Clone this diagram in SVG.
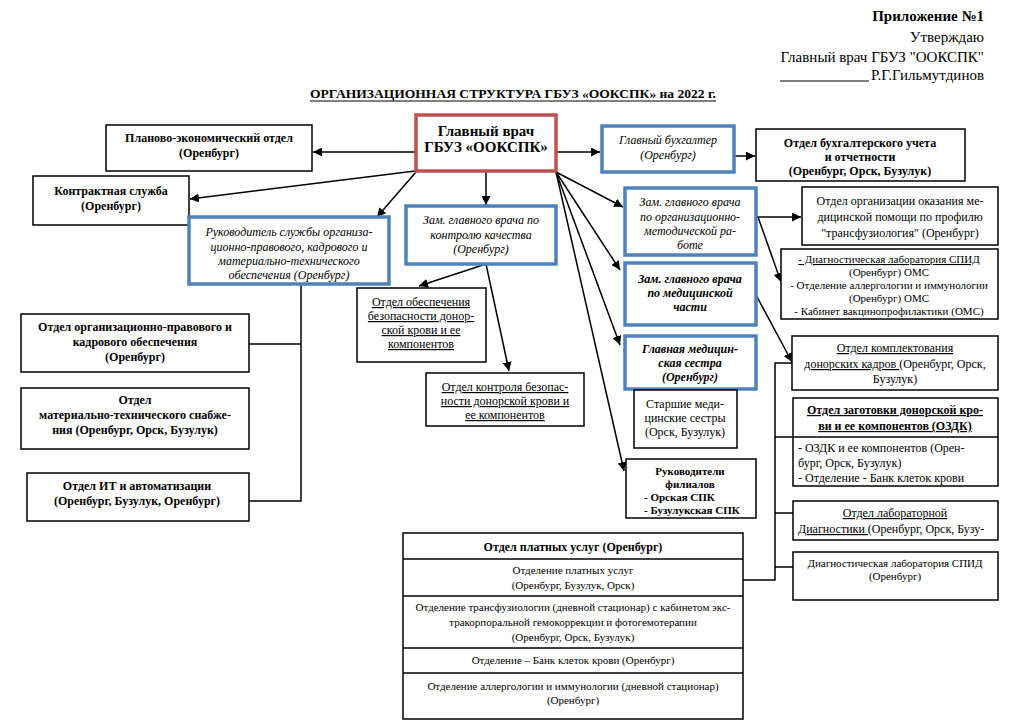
<svg xmlns="http://www.w3.org/2000/svg" width="1024" height="724" viewBox="0 0 1024 724" font-family="Liberation Serif, DejaVu Serif, serif">
<defs>
<marker id="ar" viewBox="0 0 10 10" refX="10" refY="5" markerWidth="9" markerHeight="9" markerUnits="userSpaceOnUse" orient="auto">
<path d="M0,0 L10,5 L0,10 z" fill="#000"/>
</marker>
<style>
text{fill:#000;font-size:12px}
.c{text-anchor:middle}
.r{text-anchor:end}
.bd{font-weight:bold}
.it{font-style:italic}
.u{text-decoration:underline}
.s11{font-size:11px}
.s14{font-size:14px}
.s15{font-size:15px}
.bx{fill:#fff;stroke:#000;stroke-width:1.5}
.bl{fill:#fff;stroke:#4F81BD;stroke-width:3.5}
.rd{fill:#fff;stroke:#C0504D;stroke-width:3.5}
.cn{fill:none;stroke:#000;stroke-width:1.5}
.ca{fill:none;stroke:#000;stroke-width:1.5;marker-end:url(#ar)}
</style>
</defs>
<rect width="1024" height="724" fill="#fff"/>

<g id="header">
<text x="984" y="21" class="r bd s15">Приложение №1</text>
<text x="984" y="42" class="r s15">Утверждаю</text>
<text x="984" y="62" class="r s15">Главный врач ГБУЗ "ООКСПК"</text>
<line x1="780" y1="81" x2="869" y2="81" stroke="#000" stroke-width="1"/>
<text x="984" y="80" class="r s15">Р.Г.Гильмутдинов</text>
<text x="310" y="98" class="bd" font-size="13" textLength="406" lengthAdjust="spacingAndGlyphs">ОРГАНИЗАЦИОННАЯ СТРУКТУРА ГБУЗ «ООКСПК» на 2022 г.</text>
<line x1="310" y1="101" x2="716" y2="101" stroke="#000" stroke-width="1"/>
</g>

<g id="connectors">
<path class="ca" d="M416,152 L313,152"/>
<path class="ca" d="M415,171 L190,199"/>
<path class="ca" d="M416,172 L377,217"/>
<path class="ca" d="M486,171 L486,205"/>
<path class="ca" d="M556,152 L600,152"/>
<path class="ca" d="M734,156 L755,156"/>
<path class="ca" d="M556,172 L623,207"/>
<path class="ca" d="M556,172 L620,270"/>
<path class="ca" d="M556,172 L620,345"/>
<path class="ca" d="M556,172 L624,471"/>
<path class="ca" d="M486,264 L419,286"/>
<path class="ca" d="M486,264 L509,371"/>
<path class="cn" d="M301,285 L301,501 L249,501"/>
<path class="cn" d="M249,344 L301,344"/>
<path class="ca" d="M756,217 L801,217"/>
<path class="ca" d="M758,217 L781,282"/>
<path class="ca" d="M756,295 L792,362"/>
<path class="cn" d="M792,363 L775,363 L775,580 L743,580"/>
<path class="cn" d="M775,437 L793,437"/>
<path class="cn" d="M775,513 L793,513"/>
<path class="cn" d="M775,567 L793,567"/>
</g>

<g id="glavvrach">
<rect class="rd" x="416" y="115" width="140" height="56"/>
<text x="486" y="136" class="c bd s15">Главный врач</text>
<text x="486" y="152" class="c bd s15">ГБУЗ «ООКСПК»</text>
</g>

<g id="planovo">
<rect class="bx" x="106" y="125" width="206" height="46"/>
<text x="209" y="142" class="c bd">Планово-экономический отдел</text>
<text x="209" y="157" class="c bd">(Оренбург)</text>
</g>

<g id="kontrakt">
<rect class="bx" x="33" y="176" width="156" height="49"/>
<text x="111" y="195" class="c bd">Контрактная служба</text>
<text x="111" y="210" class="c bd">(Оренбург)</text>
</g>

<g id="rukovoditel">
<rect class="bl" x="189" y="217" width="200" height="67"/>
<text x="289" y="236" class="c it">Руководитель службы организа-</text>
<text x="289" y="251" class="c it">ционно-правового, кадрового и</text>
<text x="289" y="265" class="c it">материально-технического</text>
<text x="289" y="279" class="c it">обеспечения (Оренбург)</text>
</g>

<g id="zamkach">
<rect class="bl" x="406" y="206" width="150" height="58"/>
<text x="481" y="224" class="c it">Зам. главного врача по</text>
<text x="481" y="239" class="c it">контролю качества</text>
<text x="481" y="253" class="c it">(Оренбург)</text>
</g>

<g id="glavbuh">
<rect class="bl" x="602" y="126" width="132" height="46"/>
<text x="668" y="144" class="c it">Главный бухгалтер</text>
<text x="668" y="159" class="c it">(Оренбург)</text>
</g>

<g id="buhuchet">
<rect class="bx" x="756" y="129" width="209" height="52"/>
<text x="860" y="147" class="c bd">Отдел бухгалтерского учета</text>
<text x="860" y="161" class="c bd">и отчетности</text>
<text x="860" y="175" class="c bd">(Оренбург, Орск, Бузулук)</text>
</g>

<g id="zamorg">
<rect class="bl" x="625" y="188" width="131" height="67"/>
<text x="690" y="206" class="c it">Зам. главного врача</text>
<text x="690" y="221" class="c it">по организационно-</text>
<text x="690" y="235" class="c it">методической ра-</text>
<text x="690" y="249" class="c it">боте</text>
</g>

<g id="otdorg">
<rect class="bx" x="802" y="187" width="196" height="58"/>
<text x="900" y="205" class="c">Отдел организации оказания ме-</text>
<text x="900" y="221" class="c">дицинской помощи по профилю</text>
<text x="900" y="237" class="c">"трансфузиология" (Оренбург)</text>
</g>

<g id="diaglab1">
<rect class="bx" x="781" y="249" width="217" height="70"/>
<text x="889" y="263" class="c s11 u">- Диагностическая лаборатория СПИД</text>
<text x="889" y="276" class="c s11">(Оренбург) ОМС</text>
<text x="889" y="289" class="c s11">- Отделение аллергологии и иммунологии</text>
<text x="889" y="302" class="c s11">(Оренбург) ОМС</text>
<text x="889" y="315" class="c s11">- Кабинет вакцинопрофилактики (ОМС)</text>
</g>

<g id="zammed">
<rect class="bl" x="625" y="263" width="131" height="62"/>
<text x="690" y="283" class="c it bd">Зам. главного врача</text>
<text x="690" y="297" class="c it bd">по медицинской</text>
<text x="690" y="311" class="c it bd">части</text>
</g>

<g id="glavmedsestra">
<rect class="bl" x="625" y="336" width="131" height="53"/>
<text x="690" y="353" class="c it bd">Главная медицин-</text>
<text x="690" y="367" class="c it bd">ская сестра</text>
<text x="690" y="381" class="c it bd">(Оренбург)</text>
</g>

<g id="starshie">
<rect class="bx" x="634" y="390" width="103" height="58"/>
<text x="685" y="408" class="c">Старшие меди-</text>
<text x="685" y="422" class="c">цинские сестры</text>
<text x="685" y="436" class="c">(Орск, Бузулук)</text>
</g>

<g id="filialy">
<rect class="bx" x="626" y="459" width="130" height="59"/>
<text x="690" y="475" class="c bd s11">Руководители</text>
<text x="690" y="488" class="c bd s11">филиалов</text>
<text x="644" y="501" class="bd s11">- Орская СПК</text>
<text x="644" y="514" class="bd s11">- Бузулукская СПК</text>
</g>

<g id="bezopasnost">
<rect class="bx" x="357" y="288" width="129" height="74"/>
<text x="421" y="306" class="c u">Отдел обеспечения</text>
<text x="421" y="320" class="c u">безопасности донор-</text>
<text x="421" y="334" class="c u">ской крови и ее</text>
<text x="421" y="348" class="c u">компонентов</text>
</g>

<g id="kontrol">
<rect class="bx" x="426" y="373" width="158" height="53"/>
<text x="505" y="391" class="c u">Отдел контроля безопас-</text>
<text x="505" y="405" class="c u">ности донорской крови и</text>
<text x="505" y="419" class="c u">ее компонентов</text>
</g>

<g id="orgprav">
<rect class="bx" x="21" y="314" width="228" height="58"/>
<text x="135" y="331" class="c bd">Отдел  организационно-правового и</text>
<text x="135" y="346" class="c bd">кадрового обеспечения</text>
<text x="135" y="361" class="c bd">(Оренбург)</text>
</g>

<g id="mattech">
<rect class="bx" x="21" y="388" width="228" height="61"/>
<text x="135" y="404" class="c bd">Отдел</text>
<text x="135" y="419" class="c bd">материально-технического снабже-</text>
<text x="135" y="434" class="c bd">ния (Оренбург, Орск, Бузулук)</text>
</g>

<g id="it">
<rect class="bx" x="27" y="473" width="222" height="48"/>
<text x="137" y="490" class="c bd">Отдел ИТ и автоматизации</text>
<text x="137" y="505" class="c bd">(Оренбург, Бузулук, Оренбург)</text>
</g>

<g id="komplekt">
<rect class="bx" x="792" y="336" width="206" height="54"/>
<text x="895" y="352" class="c u">Отдел комплектования</text>
<text x="895" y="368" class="c"><tspan class="u">донорских кадров </tspan>(Оренбург, Орск,</text>
<text x="895" y="383" class="c">Бузулук)</text>
</g>

<g id="zagotovka">
<rect class="bx" x="793" y="398" width="205" height="88"/>
<line x1="793" y1="437" x2="998" y2="437" stroke="#000" stroke-width="1.5"/>
<text x="895" y="414" class="c bd u">Отдел заготовки донорской кро-</text>
<text x="895" y="430" class="c bd u">ви  и ее компонентов (ОЗДК)</text>
<text x="798" y="452">- ОЗДК и ее компонентов (Орен-</text>
<text x="798" y="467">бург, Орск, Бузулук)</text>
<text x="798" y="482">- Отделение - Банк клеток крови</text>
</g>

<g id="labdiag">
<rect class="bx" x="793" y="501" width="205" height="39"/>
<text x="895" y="517" class="c u">Отдел лабораторной</text>
<text x="798" y="533"><tspan class="u">Диагностики </tspan>(Оренбург,  Орск,  Бузу-</text>
</g>

<g id="diaglab2">
<rect class="bx" x="793" y="552" width="205" height="48"/>
<text x="895" y="567" class="c s11">Диагностическая лаборатория СПИД</text>
<text x="895" y="580" class="c s11">(Оренбург)</text>
</g>

<g id="platnye">
<rect class="bx" x="403" y="533" width="340" height="186"/>
<line x1="403" y1="559" x2="743" y2="559" stroke="#000" stroke-width="1.5"/>
<line x1="403" y1="596" x2="743" y2="596" stroke="#000" stroke-width="1.5"/>
<line x1="403" y1="648" x2="743" y2="648" stroke="#000" stroke-width="1.5"/>
<line x1="403" y1="673" x2="743" y2="673" stroke="#000" stroke-width="1.5"/>
<text x="573" y="551" class="c bd">Отдел  платных услуг (Оренбург)</text>
<text x="573" y="574" class="c s11">Отделение  платных услуг</text>
<text x="573" y="589" class="c s11">(Оренбург, Бузулук, Орск)</text>
<text x="573" y="611" class="c s11">Отделение трансфузиологии (дневной стационар) с кабинетом экс-</text>
<text x="573" y="626" class="c s11">тракорпоральной гемокоррекции и фотогемотерапии</text>
<text x="573" y="641" class="c s11">(Оренбург,  Орск,  Бузулук)</text>
<text x="573" y="664" class="c s11">Отделение – Банк клеток крови (Оренбург)</text>
<text x="573" y="690" class="c s11">Отделение аллергологии и иммунологии (дневной стационар)</text>
<text x="573" y="704" class="c s11">(Оренбург)</text>
</g>
</svg>
